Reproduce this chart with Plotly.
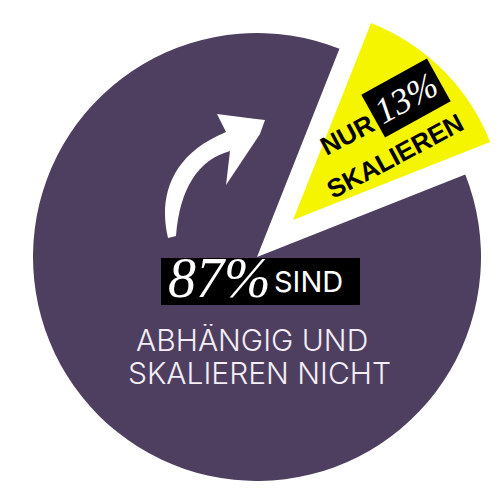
import plotly.graph_objects as go

# données
categories = ['abhängig, skalieren nicht', 'skalieren']
parts = [87, 13]
couleurs = ['#4e3e5f', '#f5f500']
etiquettes = ['87%', '13%']

W = H = 500
VIDE = 'rgba(0,0,0,0)'


def dom(cx, cy, r):
    # domaine d'un camembert à partir d'un centre/rayon en pixels
    return dict(x=[(cx - r) / W, (cx + r) / W], y=[1 - (cy + r) / H, 1 - (cy - r) / H])


def pt(x, y):
    return f'{x / W:.4f},{1 - y / H:.4f}'


rotation = 45 + parts[1] / sum(parts) * 180

fig = go.Figure()
# disque violet, la part jaune reste vide
fig.add_trace(go.Pie(labels=categories, values=parts, sort=False, direction='clockwise',
                     rotation=rotation, textinfo='none', hoverinfo='skip',
                     marker=dict(colors=[couleurs[0], VIDE], line=dict(width=0)),
                     domain=dom(249, 249, 224), showlegend=False))
# part jaune, décalée vers le haut à droite
fig.add_trace(go.Pie(labels=categories, values=parts, sort=False, direction='clockwise',
                     rotation=rotation, textinfo='none', hoverinfo='skip',
                     marker=dict(colors=[VIDE, couleurs[1]], line=dict(width=0)),
                     domain=dom(285, 212, 212), showlegend=False))

# flèche blanche
fleche = [(160, 230), (151, 192), (160, 148), (218, 124)]
chemin = ('M ' + pt(*fleche[0]) + ' C ' + ' '.join(pt(*p) for p in fleche[1:])
          + ' L ' + pt(209, 106) + ' L ' + pt(257, 112) + ' L ' + pt(252, 126)
          + ' L ' + pt(218, 177) + ' L ' + pt(222, 143)
          + ' C ' + pt(190, 152) + ' ' + pt(172, 180) + ' ' + pt(168, 228) + ' Z')
fig.add_shape(type='path', path=chemin, xref='paper', yref='paper',
              fillcolor='white', line=dict(width=0))

# bandeau noir "87% SIND"
fig.add_shape(type='rect', xref='paper', yref='paper',
              x0=153 / W, x1=352 / W, y0=1 - 297 / H, y1=1 - 250 / H,
              fillcolor='black', line=dict(width=0))

annotations = [
    dict(text='<i>' + etiquettes[0] + '</i>', x=211, y=270,
         font=dict(family='Liberation Serif', size=56, color='white')),
    dict(text='SIND', x=300, y=273,
         font=dict(family='Inter', size=29, color='white')),
    dict(text='ABHÄNGIG UND', x=244, y=331, height=31,
         font=dict(family='Inter', size=30, color='#f3eef7', weight=300)),
    dict(text='SKALIEREN NICHT', x=251, y=364, height=31,
         font=dict(family='Inter', size=30, color='#f3eef7', weight=300)),
    dict(text='NUR', x=339, y=127, textangle=-28,
         font=dict(family='Liberation Sans', size=26, color='black', weight='bold')),
    dict(text='SKALIEREN', x=387, y=148, textangle=-28,
         font=dict(family='Liberation Sans', size=26, color='black', weight='bold')),
    dict(text='<i>' + etiquettes[1] + '</i>', x=398, y=90, textangle=-29,
         bgcolor='black', borderpad=4,
         font=dict(family='Liberation Serif', size=36, color='white')),
]
for a in annotations:
    fig.add_annotation(xref='paper', yref='paper', x=a.pop('x') / W, y=1 - a.pop('y') / H,
                       showarrow=False, xanchor='center', yanchor='middle', **a)

fig.update_layout(width=W, height=H, margin=dict(l=0, r=0, t=0, b=0),
                  paper_bgcolor='white', plot_bgcolor='white')

fig.write_html('out.html')
